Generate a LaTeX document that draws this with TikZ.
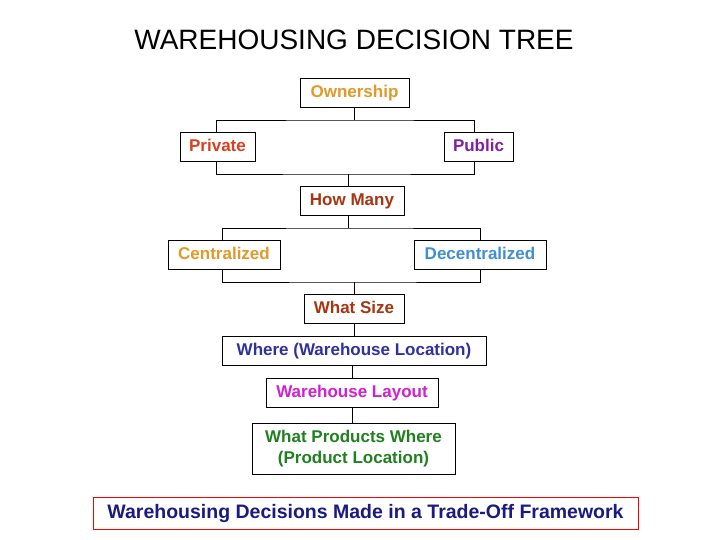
\documentclass[tikz,border=0pt]{standalone}
\usepackage{fontspec}
\setmainfont{Liberation Sans}
\definecolor{cOwn}{HTML}{E09A28}
\definecolor{cPriv}{HTML}{D84020}
\definecolor{cPub}{HTML}{8020A0}
\definecolor{cHow}{HTML}{A83410}
\definecolor{cDec}{HTML}{4090D0}
\definecolor{cWhere}{HTML}{3030A0}
\definecolor{cLay}{HTML}{D020D0}
\definecolor{cProd}{HTML}{208020}
\definecolor{cFoot}{HTML}{1A1A80}
\begin{document}
\begin{tikzpicture}[x=1pt,y=-1pt,
  box/.style={draw=black,line width=0.8pt,fill=white,inner sep=0pt,font=\bfseries\fontsize{17}{21}\selectfont,align=center},
  one/.style={text height=12pt,text depth=2pt},
  ln/.style={draw=black,line width=0.8pt}]
\useasboundingbox (0,0) rectangle (720,540);
\node[font=\fontsize{28}{32}\selectfont] (title) at (354,40) {WAREHOUSING DECISION TREE};
\node[box,one,minimum width=109pt,minimum height=29pt,text=cOwn] (own) at (354.5,92.5) {Ownership};
\node[box,one,minimum width=75pt,minimum height=29pt,text=cPriv] (priv) at (217.5,146.5) {Private};
\node[box,one,minimum width=69pt,minimum height=29pt,text=cPub] (pub) at (478.5,146.5) {Public};
\node[box,one,minimum width=104pt,minimum height=29pt,text=cHow] (how) at (352,200.5) {How Many};
\node[box,one,minimum width=112pt,minimum height=29pt,text=cOwn] (cen) at (224,254.5) {Centralized};
\node[box,one,minimum width=132pt,minimum height=29pt,text=cDec] (dec) at (480,254.5) {Decentralized};
\node[box,one,minimum width=100pt,minimum height=29pt,text=cHow] (size) at (354,308.5) {What Size};
\node[box,one,minimum width=264pt,minimum height=29pt,text=cWhere] (where) at (354,350.5) {Where (Warehouse Location)};
\node[box,one,minimum width=172pt,minimum height=29pt,text=cLay] (lay) at (352,392.5) {Warehouse Layout};
\node[box,minimum width=203pt,minimum height=51pt,text=cProd] (prod) at (353.5,448.5) {What Products Where\\(Product Location)};
\node[box,one,draw=red,minimum width=545pt,minimum height=32pt,text=cFoot,font=\bfseries\fontsize{19.5}{23}\selectfont] (foot) at (365.5,513) {Warehousing Decisions Made in a Trade-Off Framework};
% connectors
\coordinate (j1) at (354.5,120);
\draw[ln] (own.south) -- (j1);
\draw[ln] (priv.north -| 216,0) |- (j1) -| (pub.north -| 474,0);
\coordinate (j2) at (348,174);
\draw[ln] (priv.south -| 216,0) |- (j2) -| (pub.south -| 474,0);
\draw[ln] (j2) -- (how.north -| j2);
\coordinate (j3) at (348,228);
\draw[ln] (how.south -| j3) -- (j3);
\draw[ln] (cen.north -| 222,0) |- (j3) -| (dec.north -| 480,0);
\coordinate (j4) at (354,282);
\draw[ln] (cen.south -| 222,0) |- (j4) -| (dec.south -| 480,0);
\draw[ln] (j4) -- (size.north);
\draw[ln] (size.south) -- (where.north);
\draw[ln] (where.south -| lay) -- (lay.north);
\draw[ln] (lay.south) -- (prod.north -| lay);
\end{tikzpicture}
\end{document}
